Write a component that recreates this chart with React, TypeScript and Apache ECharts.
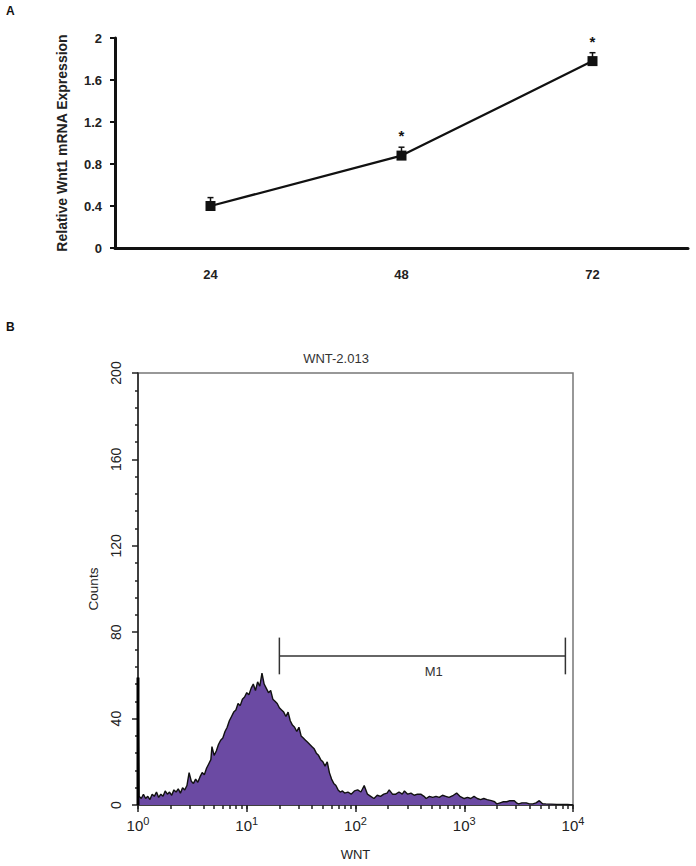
import React, { useEffect, useRef } from "react";
import * as echarts from "echarts";

// ---------- Panel A data ----------
const timeCategories = ["24", "48", "72"];
const wnt1Expression = [0.4, 0.88, 1.78];
const wnt1ErrorUpper = [0.08, 0.08, 0.08];
const significant = [0, 1, 1];
const panelAYTicks = [0, 0.4, 0.8, 1.2, 1.6, 2];

// ---------- Panel B data (x in decades: log10 of WNT intensity) ----------
const histLogX = [
  0.0, 0.01, 0.03, 0.05, 0.07, 0.09, 0.11, 0.13, 0.15, 0.17, 0.19, 0.21, 0.23, 0.25, 0.27,
  0.29, 0.31, 0.33, 0.35, 0.37, 0.39, 0.41, 0.43, 0.45, 0.47, 0.49, 0.51, 0.53, 0.55, 0.57,
  0.59, 0.61, 0.63, 0.65, 0.67, 0.68, 0.7, 0.72, 0.74, 0.76, 0.78, 0.8, 0.82, 0.84, 0.86,
  0.88, 0.9, 0.92, 0.94, 0.96, 0.98, 1.0, 1.02, 1.04, 1.06, 1.08, 1.1, 1.12, 1.14, 1.16,
  1.18, 1.2, 1.22, 1.24, 1.26, 1.28, 1.3, 1.32, 1.34, 1.36, 1.38, 1.4, 1.42, 1.44, 1.46,
  1.48, 1.5, 1.52, 1.54, 1.56, 1.58, 1.6, 1.62, 1.64, 1.66, 1.68, 1.7, 1.72, 1.74, 1.76,
  1.78, 1.8, 1.82, 1.84, 1.86, 1.88, 1.9, 1.93, 1.96, 1.99, 2.02, 2.05, 2.08, 2.11, 2.14,
  2.17, 2.2, 2.23, 2.26, 2.29, 2.31, 2.34, 2.37, 2.4, 2.43, 2.45, 2.48, 2.51, 2.54, 2.57,
  2.6, 2.63, 2.65, 2.68, 2.71, 2.74, 2.77, 2.8, 2.83, 2.86, 2.9, 2.93, 2.96, 3.0, 3.03,
  3.06, 3.09, 3.12, 3.15, 3.18, 3.21, 3.25, 3.28, 3.3, 3.33, 3.36, 3.39, 3.42, 3.46, 3.48,
  3.5, 3.53, 3.57, 3.6, 3.63, 3.66, 3.69, 3.72, 3.75, 3.8, 3.85, 3.9, 3.95, 4.0,
];
const histCounts = [
  59, 4, 3, 5, 3, 4, 2.5, 5, 4, 6, 3.5, 5, 4, 6.5, 5,
  6, 4.5, 7, 6, 7.5, 5.5, 8, 7, 9, 15, 11, 10, 12, 10.5, 13,
  15, 14, 17, 19, 21, 27, 23, 25, 28, 30, 31, 34, 36, 39, 41,
  43, 44, 47, 46, 49, 50, 52, 51, 54, 56, 53, 57, 55, 61, 56,
  54, 52, 53, 49, 48, 47, 45, 44, 43, 41, 43, 39, 37, 36, 34,
  36, 32, 31, 30, 29, 28, 27, 26, 24, 23, 21, 20, 18, 20, 15,
  12, 10, 9, 7, 6, 6.5, 5.5, 6, 5, 6.5, 7, 6, 9, 5, 4,
  3, 4.5, 4, 5, 5.5, 7, 5, 5, 6, 5, 6.5, 5, 5.5, 4.5, 5,
  5, 4, 3, 4, 3.5, 4, 3.5, 4.5, 4, 3.5, 4.5, 5.5, 4, 3, 3.5,
  3, 4, 3, 2.5, 3, 2.5, 2, 1.5, 0.5, 1, 1.5, 1.5, 2, 2, 1,
  0.5, 1, 1, 0.5, 0.5, 1, 2, 0.6, 0.5, 0.4, 0.3, 0.3, 0.2, 0,
];
const decadeTicks = [0, 1, 2, 3, 4];
const countTicks = [0, 40, 80, 120, 160, 200];
// M1 gate (decades) and its level in counts
const m1Start = 1.3;
const m1End = 3.93;
const m1Level = 69;
const m1CapHalf = 8.5;
const m1LabelX = 2.72;
const m1LabelY = 62;

const FONT = "'Liberation Sans', Arial, Helvetica, sans-serif";

export default function App() {
  const ref = useRef<HTMLDivElement>(null);

  useEffect(() => {
    if (!ref.current) return;
    const chart = echarts.init(ref.current, undefined, { renderer: "svg" });

    const minorLogTicks: number[] = [];
    for (let d = 0; d < 4; d++) {
      for (let k = 1; k <= 9; k++) minorLogTicks.push(decadeTicks[d] + Math.log10(k));
    }
    minorLogTicks.push(4);

    const errData = timeCategories.map((_, i) => [i, wnt1Expression[i], wnt1ErrorUpper[i], significant[i]]);
    const histData = histLogX.map((x, i) => [x, histCounts[i]]);
    const firstBin = [
      [histLogX[0], 0],
      [histLogX[0], histCounts[0]],
    ];

    const option: any = {
      animation: false,
      backgroundColor: "#ffffff",
      textStyle: { fontFamily: FONT },
      grid: [
        { left: 115, top: 38, width: 573, height: 210 },
        {
          left: 138,
          top: 373,
          width: 435,
          height: 434,
          show: true,
          borderColor: "#777",
          borderWidth: 1.5,
          backgroundColor: "transparent",
        },
      ],
      xAxis: [
        {
          type: "category",
          gridIndex: 0,
          data: timeCategories,
          boundaryGap: true,
          axisLine: { lineStyle: { color: "#111", width: 3 } },
          axisTick: { show: false },
          axisLabel: { color: "#222", fontWeight: "bold", fontSize: 13, margin: 20, fontFamily: FONT },
          splitLine: { show: false },
        },
        {
          type: "value",
          gridIndex: 1,
          min: 0,
          max: 4,
          interval: 1,
          name: "WNT",
          nameLocation: "middle",
          nameGap: 43,
          nameTextStyle: { color: "#222", fontSize: 13, fontFamily: FONT },
          axisLine: { lineStyle: { color: "#222", width: 1.5 } },
          axisTick: {
            show: true,
            customValues: minorLogTicks,
            length: 4,
            lineStyle: { color: "#222", width: 1.5 },
          },
          axisLabel: {
            margin: 10,
            formatter: (v: number) => "{b|10}{s|" + v + "}",
            rich: {
              b: { fontSize: 15, color: "#222", fontFamily: FONT, verticalAlign: "bottom", lineHeight: 18 },
              s: { fontSize: 11, color: "#222", fontFamily: FONT, verticalAlign: "top", lineHeight: 18 },
            },
          },
          splitLine: { show: false },
        },
        {
          type: "value",
          gridIndex: 1,
          min: 0,
          max: 4,
          interval: 1,
          position: "bottom",
          axisLine: { show: false },
          axisTick: { show: true, length: 7, lineStyle: { color: "#222", width: 1.5 } },
          axisLabel: { show: false },
          splitLine: { show: false },
        },
      ],
      yAxis: [
        {
          type: "value",
          gridIndex: 0,
          min: 0,
          max: 2,
          interval: 0.4,
          name: "Relative Wnt1 mRNA Expression",
          nameLocation: "middle",
          nameGap: 46,
          nameTextStyle: { color: "#222", fontWeight: "bold", fontSize: 14, fontFamily: FONT },
          axisLine: { show: true, lineStyle: { color: "#111", width: 3 } },
          axisTick: { show: true, length: 5, lineStyle: { color: "#111", width: 2 } },
          axisLabel: {
            color: "#222",
            fontWeight: "bold",
            fontSize: 13,
            margin: 13,
            fontFamily: FONT,
            formatter: (v: number) => {
              const m = panelAYTicks.find((t) => Math.abs(t - v) < 1e-6);
              return m === undefined ? "" : String(m);
            },
          },
          splitLine: { show: false },
        },
        {
          type: "value",
          gridIndex: 1,
          min: 0,
          max: 200,
          interval: 40,
          name: "Counts",
          nameLocation: "middle",
          nameGap: 38,
          nameTextStyle: { color: "#222", fontSize: 13.5, fontFamily: FONT },
          axisLine: { show: true, lineStyle: { color: "#222", width: 1.5 } },
          axisTick: { show: true, length: 6, lineStyle: { color: "#222", width: 1.5 } },
          minorTick: { show: true, splitNumber: 5, length: 3, lineStyle: { color: "#222", width: 1.5 } },
          axisLabel: {
            color: "#222",
            fontSize: 14,
            rotate: 90,
            margin: 15,
            fontFamily: FONT,
            formatter: (v: number) => (countTicks.indexOf(v) >= 0 ? String(v) : ""),
          },
          splitLine: { show: false },
          minorSplitLine: { show: false },
        },
      ],
      series: [
        {
          type: "custom",
          xAxisIndex: 0,
          yAxisIndex: 0,
          z: 1,
          data: errData,
          renderItem: (params: any, api: any) => {
            const x = api.value(0);
            const mean = api.value(1);
            const err = api.value(2);
            const star = api.value(3);
            const p = api.coord([x, mean]);
            const t = api.coord([x, mean + err]);
            const children: any[] = [
              { type: "line", shape: { x1: p[0], y1: p[1], x2: t[0], y2: t[1] }, style: { stroke: "#111", lineWidth: 1.5 } },
              { type: "line", shape: { x1: t[0] - 3, y1: t[1], x2: t[0] + 3, y2: t[1] }, style: { stroke: "#111", lineWidth: 1.5 } },
            ];
            if (star) {
              children.push({
                type: "text",
                x: t[0],
                y: t[1] - 4,
                style: {
                  text: "*",
                  align: "center",
                  verticalAlign: "bottom",
                  fontSize: 15,
                  fontWeight: "bold",
                  fill: "#111",
                  fontFamily: FONT,
                },
              });
            }
            return { type: "group", children };
          },
        },
        {
          type: "line",
          xAxisIndex: 0,
          yAxisIndex: 0,
          z: 3,
          data: wnt1Expression,
          symbol: "rect",
          symbolSize: 10,
          itemStyle: { color: "#111" },
          lineStyle: { color: "#111", width: 2.2 },
        },
        {
          type: "line",
          xAxisIndex: 1,
          yAxisIndex: 1,
          z: 2,
          data: histData,
          symbol: "none",
          lineStyle: { color: "#111", width: 1.4 },
          areaStyle: { color: "#6b4aa3", opacity: 1 },
        },
        {
          type: "line",
          xAxisIndex: 1,
          yAxisIndex: 1,
          z: 3,
          data: firstBin,
          symbol: "none",
          lineStyle: { color: "#000", width: 3 },
        },
        {
          type: "custom",
          xAxisIndex: 1,
          yAxisIndex: 1,
          z: 4,
          data: [[m1Start, m1End, m1Level]],
          renderItem: (params: any, api: any) => {
            const x1 = api.value(0);
            const x2 = api.value(1);
            const y = api.value(2);
            const a = api.coord([x1, y]);
            const b = api.coord([x2, y]);
            const capTop = api.coord([x1, y + m1CapHalf])[1];
            const capBot = api.coord([x1, y - m1CapHalf])[1];
            const lab = api.coord([m1LabelX, m1LabelY]);
            const st = { stroke: "#333", lineWidth: 1.5 };
            return {
              type: "group",
              children: [
                { type: "line", shape: { x1: a[0], y1: a[1], x2: b[0], y2: b[1] }, style: st },
                { type: "line", shape: { x1: a[0], y1: capTop, x2: a[0], y2: capBot }, style: st },
                { type: "line", shape: { x1: b[0], y1: capTop, x2: b[0], y2: capBot }, style: st },
                {
                  type: "text",
                  x: lab[0],
                  y: lab[1],
                  style: { text: "M1", align: "center", verticalAlign: "middle", fontSize: 13, fill: "#333", fontFamily: FONT },
                },
              ],
            };
          },
        },
      ],
      graphic: [
        { type: "text", left: 6, top: 5, style: { text: "A", fontSize: 12, fontWeight: "bold", fill: "#111", fontFamily: FONT } },
        { type: "text", left: 6, top: 321, style: { text: "B", fontSize: 12, fontWeight: "bold", fill: "#111", fontFamily: FONT } },
        {
          type: "text",
          x: 336,
          y: 358,
          style: { text: "WNT-2.013", align: "center", verticalAlign: "middle", fontSize: 13, fill: "#333", fontFamily: FONT },
        },
      ],
    };

    chart.setOption(option);
    return () => chart.dispose();
  }, []);

  return (
    <div
      ref={ref}
      style={{ position: "fixed", left: 0, top: 0, width: 696, height: 866, background: "#fff" }}
    />
  );
}
